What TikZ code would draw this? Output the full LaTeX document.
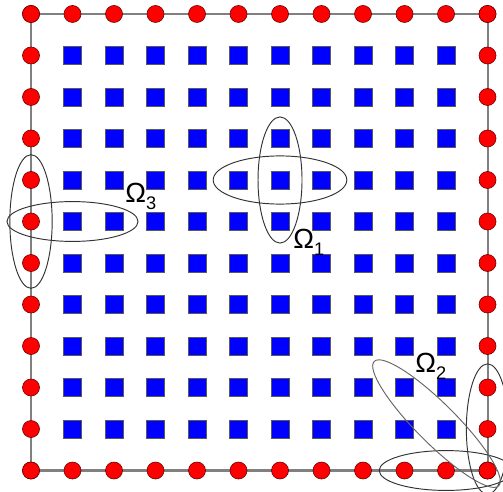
\documentclass[tikz,border=0pt]{standalone}
\usepackage{fontspec}
\setmainfont{Liberation Sans}
\tikzset{
  bdry/.style={circle, draw=black!60!red, fill=red, line width=0.4pt, minimum size=0.41cm, inner sep=0pt},
  intr/.style={rectangle, draw=black!65, fill=blue, line width=0.4pt, minimum size=0.43cm, inner sep=0pt},
  supp/.style={draw=black!80, line width=0.65pt},
  lbl/.style={inner sep=0pt, anchor=base west, font=\fontsize{19}{19}\selectfont}
}
\newcommand{\suppname}[1]{Ω\raisebox{-4.8pt}{\fontsize{12.5}{12.5}\selectfont #1}}
\begin{document}
\begin{tikzpicture}[x=1cm, y=-1cm]
	\useasboundingbox (-0.747,-0.337) rectangle (11.373,11.494);
	% corners of the domain
	\coordinate (nw) at (0,0);
	\coordinate (ne) at (11,0);
	\coordinate (se) at (11,11);
	\coordinate (sw) at (0,11);
	\draw [gray, line width=1.4pt] (nw) -- (ne) -- (se) -- (sw) -- cycle;
	% interior nodes
	\foreach \i in {1,...,10}
		\foreach \j in {1,...,10}
			\node [intr] (q-\i-\j) at (\i,\j) {};
	% boundary nodes
	\foreach \k in {0,...,11} {
		\node [bdry] (t-\k) at (\k,0) {};
		\node [bdry] (d-\k) at (\k,11) {};
		\node [bdry] (l-\k) at (0,\k) {};
		\node [bdry] (r-\k) at (11,\k) {};
	}
	% supports
	\draw [supp] (q-6-4.center) ellipse [x radius=1.61, y radius=0.58];
	\draw [supp] (q-6-4.center) ellipse [x radius=0.53, y radius=1.52];
	\draw [supp] (l-5.center) ellipse [x radius=0.51, y radius=1.61];
	\draw [supp] (q-1-5.center) ellipse [x radius=1.58, y radius=0.48];
	\draw [supp] (d-10.center) ellipse [x radius=1.61, y radius=0.48];
	\draw [supp] (r-10.center) ellipse [x radius=0.51, y radius=1.57];
	\coordinate (dg) at (9.77,9.87);
	\draw [supp, black!60, rotate around={-45:(dg)}] (dg) ellipse [x radius=2.12, y radius=0.48];
	% labels
	\node [lbl] (om1) at (6.313,5.64) {\suppname{1}};
	\node [lbl] (om2) at (9.253,8.627) {\suppname{2}};
	\node [lbl] (om3) at (2.265,4.554) {\suppname{3}};
\end{tikzpicture}
\end{document}
